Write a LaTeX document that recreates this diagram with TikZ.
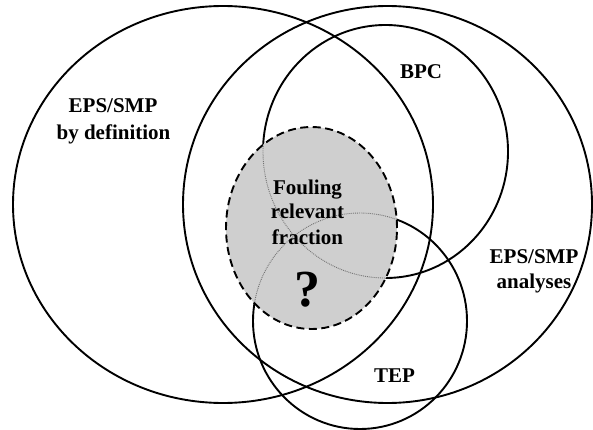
\documentclass[tikz,border=0pt]{standalone}
\usepackage{fontspec}
\setmainfont{Liberation Serif}
\begin{document}
\begin{tikzpicture}[x=1pt,y=-1pt,
  ring/.style={draw=black, line width=1.9pt},
  inner/.style={draw=black!55, line width=0.9pt, densely dotted},
  lbl/.style={font=\fontsize{21}{26}\selectfont\bfseries, anchor=base, inner sep=0pt, align=center}]
\useasboundingbox (0,0) rectangle (593,430);
\coordinate (cl) at (223,204.5);
\coordinate (cr) at (387.5,204.5);
\coordinate (cb) at (385.5,151.5);
\coordinate (ct) at (360,321);
\coordinate (cs) at (311.5,228);
% big and small rings
\draw[ring] (cl) ellipse [x radius=210pt, y radius=198.5pt];
\draw[ring] (cr) ellipse [x radius=204.5pt, y radius=198.5pt];
\draw[ring] (cb) ellipse [x radius=122.5pt, y radius=126.5pt];
\draw[ring] (ct) ellipse [x radius=107pt, y radius=108pt];
% shaded fouling region
\fill[black!19] (cs) ellipse [x radius=85.5pt, y radius=101pt];
\begin{scope}
  \clip (cs) ellipse [x radius=85.5pt, y radius=101pt];
  \draw[inner] (cb) ellipse [x radius=122.5pt, y radius=126.5pt];
  \draw[inner] (ct) ellipse [x radius=107pt, y radius=108pt];
\end{scope}
\draw[line width=1.9pt, dash pattern=on 8pt off 4.5pt] (cs) ellipse [x radius=85.5pt, y radius=101pt];
% labels
\node[lbl] (def1) at (113,113) {EPS/SMP};
\node[lbl] (def2) at (113.5,140) {by definition};
\node[lbl] (bpc) at (421,79) {BPC};
\node[lbl] (f1) at (307.5,194) {Fouling};
\node[lbl] (f2) at (307.5,218.5) {relevant};
\node[lbl] (f3) at (307.5,244) {fraction};
\node[font=\fontsize{52}{52}\selectfont\bfseries, anchor=base, inner sep=0pt] (q) at (307.5,306) {?};
\node[lbl] (an1) at (534,263) {EPS/SMP};
\node[lbl] (an2) at (534,288) {analyses};
\node[lbl] (tep) at (394.5,382) {TEP};
\end{tikzpicture}
\end{document}
